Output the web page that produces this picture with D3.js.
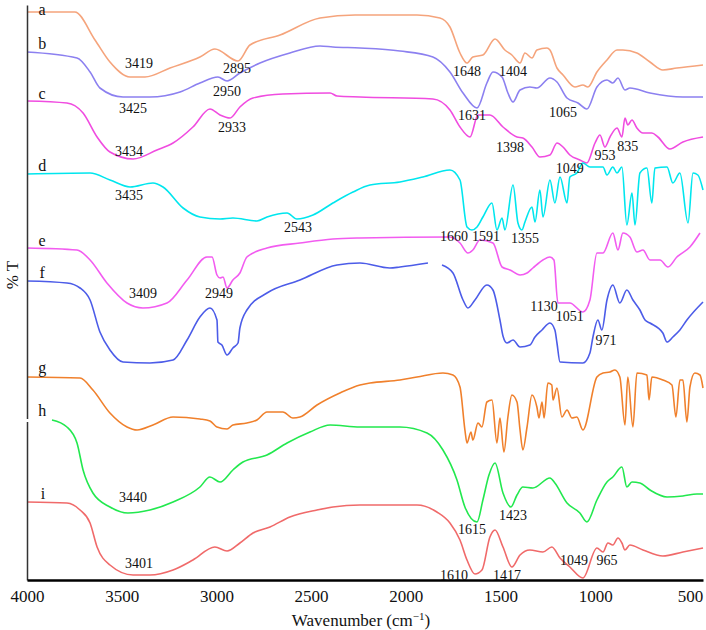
<!DOCTYPE html>
<html>
<head>
<meta charset="utf-8">
<script src="https://cdn.jsdelivr.net/npm/d3@7"></script>
<style>
  body { margin: 0; background: #fff; }
  text { font-family: "Liberation Serif", "Times New Roman", serif; fill: #111; }
</style>
</head>
<body>
<div id="chart"></div>
<script>
// FTIR spectra a-i, [wavenumber, %T offset]
const specA = [[4000,568],[3747,568],[3641,540],[3562,518],[3456,503],[3377,503],[3245,512],[3087,523],[3008,531],[2886,519],[2823,535],[2664,545],[2453,562],[2268,565],[1941,565],[1820,562],[1767,553],[1714,527],[1677,517],[1646,523],[1593,525],[1529,541],[1477,530],[1440,525],[1397,517],[1371,527],[1334,522],[1308,530],[1255,532],[1239,530],[1202,512],[1170,505],[1107,493],[1065,495],[1039,493],[991,508],[938,520],[885,530],[854,530],[780,527],[711,518],[643,510],[569,512],[431,515]];
const specB = [[4000,528],[3736,522],[3667,508],[3615,492],[3493,483],[3351,483],[3192,488],[3087,497],[2992,503],[2944,499],[2876,507],[2770,517],[2612,527],[2453,534],[2385,533],[2242,532],[2031,529],[1857,523],[1767,508],[1698,487],[1624,472],[1572,497],[1540,508],[1492,503],[1461,487],[1434,478],[1397,490],[1345,493],[1308,492],[1239,502],[1202,498],[1149,482],[1091,477],[1044,471],[991,493],[938,500],[907,497],[880,502],[843,490],[817,492],[711,487],[537,483],[431,483]];
const specC = [[4000,479],[3789,477],[3704,467],[3630,443],[3562,428],[3440,421],[3314,430],[3229,437],[3124,453],[3034,471],[2981,465],[2928,462],[2876,473],[2807,482],[2649,486],[2400,487],[2363,484],[2242,483],[1857,481],[1767,470],[1714,453],[1661,443],[1619,465],[1556,465],[1487,453],[1413,443],[1382,442],[1334,433],[1292,423],[1239,425],[1202,437],[1170,433],[1134,425],[1081,420],[1044,417],[1001,437],[975,445],[949,433],[922,443],[885,452],[859,443],[843,462],[828,455],[806,460],[780,452],[748,447],[701,447],[669,443],[606,431],[537,438],[431,443]];
const specD = [[4000,406],[3667,407],[3562,400],[3456,393],[3335,397],[3282,393],[3176,372],[3087,363],[2981,361],[2913,362],[2786,359],[2733,363],[2627,367],[2575,361],[2490,365],[2385,377],[2279,388],[2189,395],[2031,398],[1910,403],[1767,410],[1714,400],[1677,353],[1651,350],[1624,353],[1593,363],[1545,377],[1519,350],[1492,362],[1477,350],[1434,395],[1408,357],[1387,350],[1371,358],[1334,373],[1318,358],[1292,390],[1276,363],[1239,400],[1213,377],[1186,403],[1149,377],[1134,403],[1097,407],[1065,417],[1028,413],[959,413],[938,405],[907,413],[885,407],[859,413],[833,355],[806,387],[790,355],[764,407],[727,412],[701,377],[685,412],[621,413],[590,397],[553,407],[510,357],[484,407],[458,405],[431,390]];
const specE = [[4000,332],[3736,330],[3667,320],[3578,297],[3472,277],[3388,272],[3261,277],[3155,300],[3050,323],[3023,323],[2997,305],[2981,302],[2965,303],[2944,292],[2913,300],[2876,307],[2839,323],[2733,332],[2559,337],[2385,341],[2242,342],[1767,343],[1714,337],[1672,327],[1646,330],[1609,340],[1540,337],[1492,313],[1450,310],[1397,305],[1360,307],[1329,312],[1276,320],[1239,323],[1218,320],[1197,277],[1134,277],[1065,268],[1028,280],[991,327],[959,327],[907,347],[880,330],[854,347],[817,343],[780,328],[748,330],[711,320],[658,320],[616,313],[569,323],[500,333],[447,347]];
const specF = [[4000,299],[3789,297],[3720,292],[3667,280],[3615,248],[3562,230],[3493,218],[3351,217],[3229,220],[3155,240],[3087,263],[3034,272],[2997,260],[2992,238],[2971,235],[2944,225],[2913,232],[2886,237],[2876,252],[2839,270],[2733,287],[2559,300],[2363,315],[2242,317],[2084,312],[2031,313],[1883,317],[1850,null],[1809,315],[1751,307],[1698,280],[1672,272],[1635,280],[1572,295],[1540,290],[1503,260],[1487,244],[1466,237],[1434,240],[1397,233],[1345,235],[1318,243],[1281,250],[1239,257],[1213,250],[1202,237],[1186,218],[1065,217],[1028,227],[1012,243],[986,260],[965,250],[938,280],[907,295],[870,277],[833,290],[801,280],[764,270],[737,260],[711,257],[643,247],[621,238],[590,243],[553,250],[516,260],[431,278]];
const specG = [[4000,203],[3720,202],[3652,190],[3562,167],[3472,153],[3419,150],[3335,155],[3229,163],[3087,161],[3034,159],[2997,153],[2944,151],[2913,155],[2839,157],[2786,160],[2733,168],[2649,168],[2596,162],[2559,163],[2469,175],[2348,187],[2242,195],[2189,197],[2031,200],[1941,203],[1804,207],[1751,205],[1714,193],[1688,150],[1677,137],[1656,148],[1646,140],[1619,157],[1598,153],[1572,178],[1545,180],[1519,137],[1503,162],[1482,128],[1461,163],[1440,185],[1413,178],[1397,150],[1382,130],[1360,153],[1334,185],[1308,173],[1297,162],[1281,178],[1270,162],[1250,197],[1229,195],[1223,180],[1202,192],[1176,163],[1149,170],[1123,162],[1097,163],[1065,150],[991,203],[959,207],[922,208],[896,210],[870,203],[843,155],[828,203],[801,153],[780,207],[727,205],[716,180],[701,203],[643,200],[595,195],[574,163],[553,200],[537,200],[516,158],[500,193],[474,207],[447,205],[431,192]];
const specH = [[3868,160],[3789,153],[3736,137],[3704,110],[3652,87],[3562,73],[3467,67],[3351,70],[3229,78],[3087,93],[3034,103],[2981,98],[2913,110],[2860,118],[2733,125],[2627,137],[2506,148],[2400,155],[2242,153],[2031,153],[1888,147],[1804,130],[1730,100],[1688,73],[1624,58],[1593,80],[1561,105],[1529,117],[1487,87],[1445,73],[1413,85],[1382,93],[1329,92],[1239,102],[1213,97],[1149,77],[1081,67],[1044,58],[991,80],[938,98],[907,103],[859,113],[833,93],[806,98],[764,97],[711,90],[621,83],[537,84],[463,86],[431,86]];
const specI = [[4000,78],[3789,77],[3720,70],[3667,57],[3630,33],[3562,15],[3440,5],[3351,5],[3229,10],[3124,20],[3008,33],[2944,29],[2876,37],[2807,47],[2717,53],[2612,63],[2469,70],[2385,73],[2242,75],[1941,75],[1836,68],[1767,57],[1714,40],[1677,20],[1635,6],[1598,10],[1556,43],[1529,50],[1487,33],[1440,13],[1397,25],[1345,30],[1276,28],[1229,33],[1186,22],[1134,13],[1065,2],[991,32],[959,28],[933,37],[907,35],[880,42],[859,37],[843,30],[817,35],[748,30],[643,24],[537,28],[431,32]];

const ids = ['a','b','c','d','e','f','g','h','i'];
const colors = ['#f5a47c','#8c80f0','#f04ce0','#00e6ee','#f25cf0','#4c5ce8','#f0802c','#22e84e','#f06a6a'];
const letterPos = [[3920,571],[3920,537],[3920,487],[3920,415],[3920,340],[3920,308],[3920,213],[3920,170],[3915,87]];

// peak labels: [wavenumber, %T offset, text]
const peakLabels = [
  [3409,517,'3419'],[2891,512,'2895'],[1677,509,'1648'],[1434,509,'1404'],
  [3440,472,'3425'],[2944,489,'2950'],[1170,468,'1065'],
  [3462,429,'3434'],[2918,453,'2933'],[1651,465,'1631'],[1450,433,'1398'],[1134,412,'1049'],[949,425,'953'],[828,434,'835'],
  [3462,385,'3435'],[2569,353,'2543'],[1746,344,'1660'],[1577,344,'1591'],[1371,342,'1355'],
  [3388,287,'3409'],[2986,287,'2949'],[1270,274,'1130'],[1134,264,'1051'],[943,240,'971'],
  [3440,83,'3440'],[1651,51,'1615'],[1434,65,'1423'],
  [3409,17,'3401'],[1746,5,'1610'],[1466,5,'1417'],[1112,20,'1049'],[938,20,'965']
];
const xTicks = [4000,3500,3000,2500,2000,1500,1000,500];

const width = 706, height = 630;
const allSpecs = [specA,specB,specC,specD,specE,specF,specG,specH,specI];
const series = ids.map((id, i) => ({id: id, color: colors[i], values: allSpecs[i]}));

const xScale = d3.scaleLinear().domain([4000, 431]).range([27, 703]);
const yScale = d3.scaleLinear().domain([0, 575]).range([580, 5]);

const svg = d3.select('#chart').append('svg')
  .attr('width', width).attr('height', height);

const line = d3.line()
  .defined(d => d[1] != null)
  .x(d => xScale(d[0]))
  .y(d => yScale(d[1]))
  .curve(d3.curveMonotoneX);

svg.append('g')
  .selectAll('path')
  .data(series)
  .join('path')
  .attr('fill', 'none')
  .attr('stroke', d => d.color)
  .attr('stroke-width', 1.6)
  .attr('stroke-linejoin', 'round')
  .attr('d', d => line(d.values));

// left axis (no ticks), with the small break near h
const yAxis = svg.append('g')
  .attr('transform', 'translate(27,0)')
  .call(d3.axisLeft(yScale).tickValues([]).tickSizeOuter(0));
yAxis.select('.domain').attr('stroke', '#333').attr('stroke-width', 1.5);
svg.append('rect').attr('x', 25).attr('y', yScale(161)).attr('width', 4).attr('height', 3).attr('fill', '#fff');

// bottom axis
const xAxis = svg.append('g')
  .attr('transform', 'translate(0,580)')
  .call(d3.axisBottom(xScale).tickValues(xTicks).tickSize(0).tickPadding(10).tickFormat(d3.format('d')));
xAxis.select('.domain').attr('stroke', '#000').attr('stroke-width', 2.5);
xAxis.selectAll('text').style('font-size', '17px').style('font-family', '"Liberation Serif", serif').attr('fill', '#111');

// axis titles
const xt = svg.append('text')
  .attr('x', 361).attr('y', 626)
  .attr('text-anchor', 'middle')
  .style('font-size', '17px');
xt.append('tspan').text('Wavenumber (cm');
xt.append('tspan').text('\u22121').attr('dy', -6).style('font-size', '11px');
xt.append('tspan').text(')').attr('dy', 6);

svg.append('text')
  .attr('transform', 'translate(12,275) rotate(-90)')
  .attr('text-anchor', 'middle')
  .attr('dominant-baseline', 'central')
  .style('font-size', '17px')
  .text('% T');

// series letters
svg.append('g')
  .selectAll('text')
  .data(ids)
  .join('text')
  .attr('x', (d, i) => xScale(letterPos[i][0]))
  .attr('y', (d, i) => yScale(letterPos[i][1]))
  .attr('text-anchor', 'middle')
  .attr('dominant-baseline', 'central')
  .style('font-size', '16px')
  .text(d => d);

// peak labels
svg.append('g')
  .selectAll('text')
  .data(peakLabels)
  .join('text')
  .attr('x', d => xScale(d[0]))
  .attr('y', d => yScale(d[1]))
  .attr('text-anchor', 'middle')
  .attr('dominant-baseline', 'central')
  .style('font-size', '14px')
  .text(d => d[2]);
</script>
</body>
</html>
